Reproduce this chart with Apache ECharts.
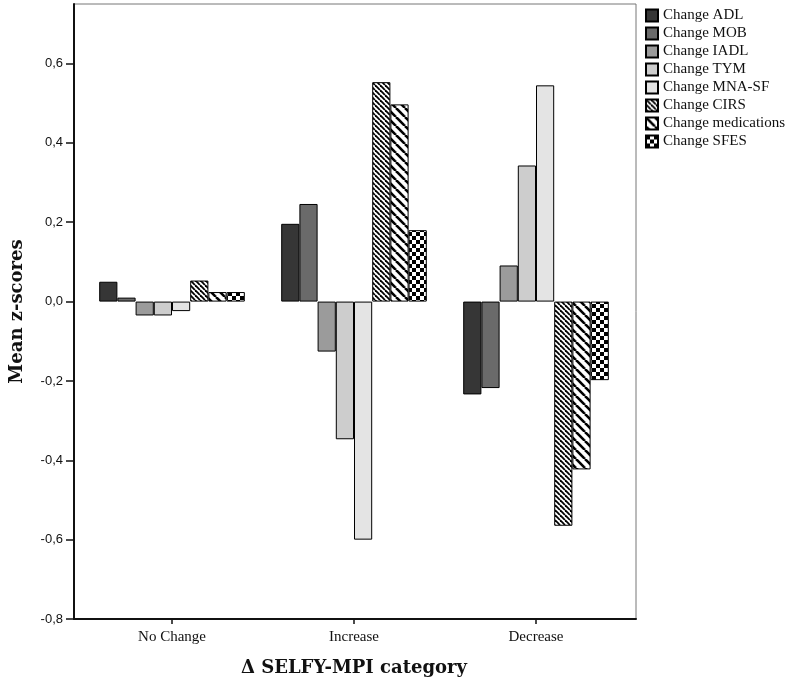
<!DOCTYPE html>
<html>
<head>
<meta charset="utf-8">
<script src="https://cdn.jsdelivr.net/npm/echarts@6/dist/echarts.min.js"></script>
<style>html,body{margin:0;padding:0;background:#fff;}#c{width:789px;height:684px;}</style>
</head>
<body>
<div id="c"></div>
<script>
// ---- data ----
var categories = ['No Change', 'Increase', 'Decrease'];
var seriesNames = ['Change ADL', 'Change MOB', 'Change IADL', 'Change TYM', 'Change MNA-SF', 'Change CIRS', 'Change medications', 'Change SFES'];
var changeADL = [0.050, 0.196, -0.234];
var changeMOB = [0.010, 0.246, -0.218];
var changeIADL = [-0.035, -0.126, 0.091];
var changeTYM = [-0.035, -0.347, 0.343];
var changeMNASF = [-0.024, -0.600, 0.545];
var changeCIRS = [0.053, 0.553, -0.565];
var changeMedications = [0.024, 0.497, -0.423];
var changeSFES = [0.024, 0.180, -0.198];
var yTicks = [-0.8, -0.6, -0.4, -0.2, 0.0, 0.2, 0.4, 0.6];

// ---- patterns ----
function stripes(s, w) {
  var c = document.createElement('canvas');
  c.width = s; c.height = s;
  var g = c.getContext('2d');
  g.fillStyle = '#fff'; g.fillRect(0, 0, s, s);
  g.strokeStyle = '#000'; g.lineWidth = w;
  for (var k = -1; k <= 1; k++) {
    g.beginPath(); g.moveTo(k * s, 0); g.lineTo(k * s + s, s); g.stroke();
  }
  return c;
}
function checker(n) {
  var c = document.createElement('canvas');
  c.width = 2 * n; c.height = 2 * n;
  var g = c.getContext('2d');
  g.fillStyle = '#fff'; g.fillRect(0, 0, 2 * n, 2 * n);
  g.fillStyle = '#000'; g.fillRect(0, 0, n, n); g.fillRect(n, n, n, n);
  return c;
}
var fills = [
  '#363636', '#6a6a6a', '#9b9b9b', '#cdcdcd', '#e4e4e4',
  { image: stripes(5, 1.8), repeat: 'repeat' },
  { image: stripes(9, 2.6), repeat: 'repeat' },
  { image: checker(4), repeat: 'repeat' }
];
var values = [changeADL, changeMOB, changeIADL, changeTYM, changeMNASF, changeCIRS, changeMedications, changeSFES];

var series = seriesNames.map(function (n, i) {
  return {
    name: n, type: 'bar', xAxisIndex: 1, yAxisIndex: 1,
    data: values[i], barGap: '0%', barCategoryGap: '20%',
    itemStyle: { color: fills[i], borderColor: '#000', borderWidth: 1 },
    emphasis: { disabled: true }, animation: false
  };
});

function fmt(v) { return v.toFixed(1).replace('.', ','); }

var chart = echarts.init(document.getElementById('c'), null, { renderer: 'canvas' });
chart.setOption({
  backgroundColor: '#fff',
  animation: false,
  legend: {
    orient: 'vertical', left: 640, top: 3,
    itemWidth: 12, itemHeight: 12, itemGap: 3,
    icon: 'rect',
    data: seriesNames,
    textStyle: { fontFamily: 'Liberation Serif', fontSize: 15, color: '#111', lineHeight: 14, padding: [0, 0, 0, 0] },
    selectedMode: false
  },
  grid: [
    { left: 71, right: 153, top: 4, bottom: 65, show: true, borderColor: '#777', borderWidth: 1 },
    { left: 81, right: 162, top: 4, bottom: 65 }
  ],
  xAxis: [
    { gridIndex: 0, type: 'category', data: categories,
      axisLine: { show: true, onZero: false, lineStyle: { color: '#111', width: 2 } },
      axisTick: { show: false }, axisLabel: { show: false }, splitLine: { show: false } },
    { gridIndex: 1, type: 'category', data: categories,
      axisLine: { show: false, onZero: false },
      axisTick: { show: true, alignWithLabel: true, length: 5, lineStyle: { color: '#111', width: 1.5 } },
      axisLabel: { fontFamily: 'Liberation Serif', fontSize: 15, color: '#111', margin: 11 },
      name: '\u0394 SELFY-MPI category', nameLocation: 'middle', nameGap: 40,
      nameTextStyle: { fontFamily: 'DejaVu Serif', fontWeight: 'bold', fontSize: 18, color: '#111' } }
  ],
  yAxis: [
    { gridIndex: 0, type: 'value', min: -0.8, max: 0.75,
      axisLine: { show: true, lineStyle: { color: '#111', width: 2 } },
      axisTick: { show: true, length: 8, customValues: yTicks, lineStyle: { color: '#111', width: 1.5 } },
      axisLabel: { customValues: yTicks, formatter: fmt, fontFamily: 'Liberation Sans', fontSize: 13, color: '#111', margin: 11 },
      splitLine: { show: false },
      name: 'Mean z-scores', nameLocation: 'middle', nameGap: 48,
      nameTextStyle: { fontFamily: 'DejaVu Serif', fontWeight: 'bold', fontSize: 18, color: '#111' } },
    { gridIndex: 1, type: 'value', min: -0.8, max: 0.75, show: false, splitLine: { show: false } }
  ],
  series: series
});
</script>
</body>
</html>
